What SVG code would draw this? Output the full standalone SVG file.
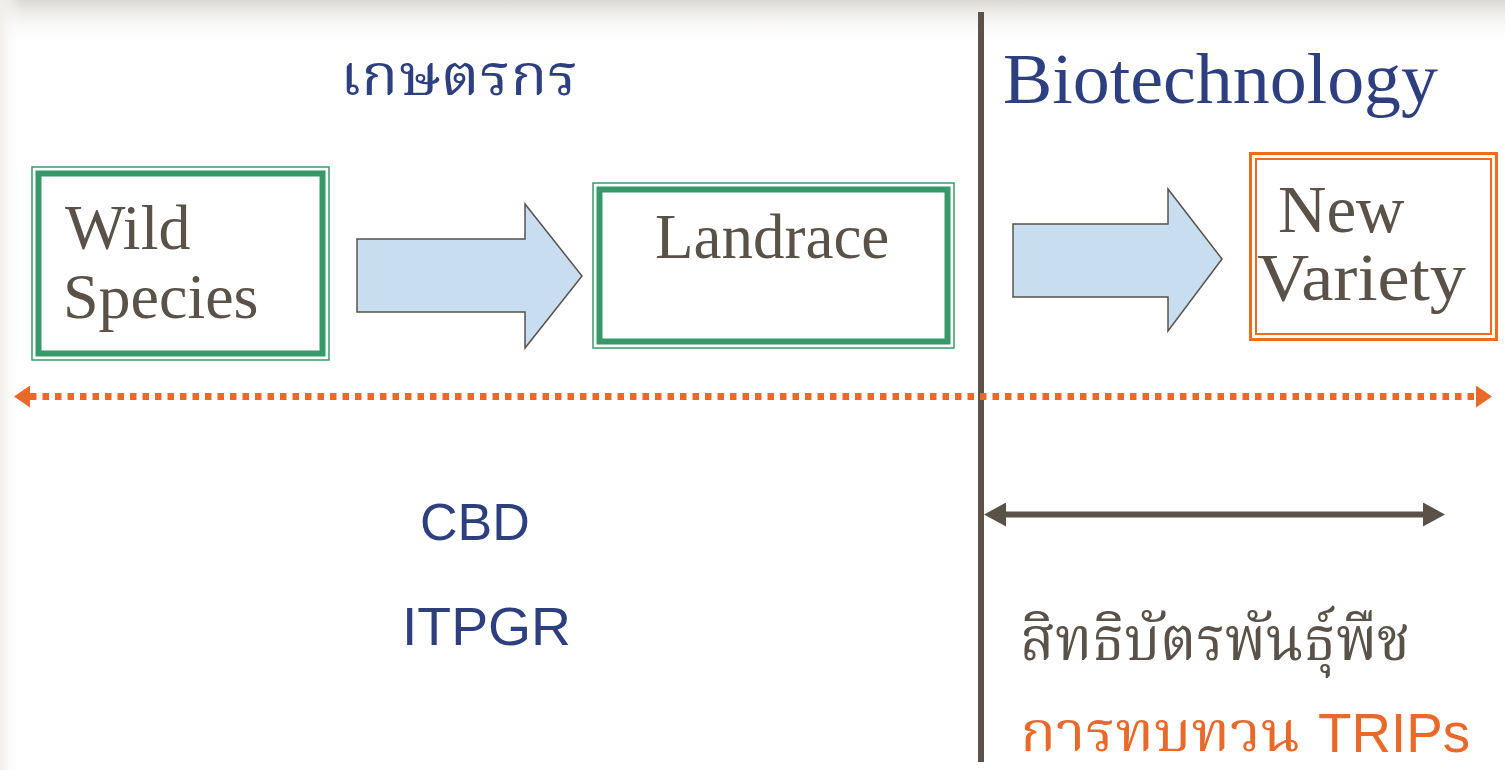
<svg xmlns="http://www.w3.org/2000/svg" width="1505" height="770" viewBox="0 0 1505 770">
<style>
.serif{font-family:"Liberation Serif","Times New Roman",serif;fill:#5a5249}
.sans{font-family:"Liberation Sans",Arial,sans-serif}
.thai{font-family:"Noto Serif Thai","Noto Sans Thai","Loma","Garuda","Noto Sans","DejaVu Sans",serif}
.blue{fill:#2e3f80}
.orange{fill:#e8692a}
.brown{fill:#5a5249}
.green-thin{fill:none;stroke:#3a9a6a;stroke-width:1.5}
.green-thick{fill:#fff;stroke:#379968;stroke-width:6}
.block{fill:#c9ddf0;stroke:#5a524a;stroke-width:1.5;stroke-linejoin:miter}
</style>
<defs>
<linearGradient id="topg" x1="0" y1="0" x2="0" y2="1">
<stop offset="0" stop-color="#dcd9d2"/>
<stop offset="1" stop-color="#ffffff" stop-opacity="0"/>
</linearGradient>
<linearGradient id="leftg" x1="0" y1="0" x2="1" y2="0">
<stop offset="0" stop-color="#f1efeb"/>
<stop offset="1" stop-color="#ffffff" stop-opacity="0"/>
</linearGradient>
<marker id="oa" viewBox="0 0 16 22" refX="0" refY="11" markerWidth="16" markerHeight="22" orient="auto-start-reverse" markerUnits="userSpaceOnUse">
<path d="M0,0 L16,11 L0,22 Z" fill="#e8692a"/>
</marker>
<marker id="da" viewBox="0 0 22 24" refX="0" refY="12" markerWidth="22" markerHeight="24" orient="auto-start-reverse" markerUnits="userSpaceOnUse">
<path d="M0,0 L22,12 L0,24 Z" fill="#5a5249"/>
</marker>
</defs>
<rect width="1505" height="770" fill="#ffffff"/>
<rect x="0" y="0" width="1505" height="45" fill="url(#topg)"/>
<rect x="0" y="0" width="22" height="770" fill="url(#leftg)"/>

<g id="connectors">
<line x1="981" y1="12" x2="981" y2="762" stroke="#5b5249" stroke-width="6"/>
<line x1="30" y1="396.5" x2="1476" y2="396.5" stroke="#e8692a" stroke-width="7" stroke-dasharray="6.5 6" marker-start="url(#oa)" marker-end="url(#oa)"/>
<line x1="1006" y1="514.5" x2="1423" y2="514.5" stroke="#5a5249" stroke-width="6" marker-start="url(#da)" marker-end="url(#da)"/>
<path id="arrow1" class="block" d="M357,239 H525 V204 L582,276 L525,348 V312 H357 Z"/>
<path id="arrow2" class="block" d="M1013,224 H1168 V189 L1222,259 L1168,331 V297 H1013 Z"/>
</g>

<g id="wild-species">
<rect x="32" y="167" width="297" height="193" class="green-thin"/>
<rect x="38.5" y="173.5" width="284" height="180" class="green-thick"/>
<text class="serif" font-size="64" x="65" y="249">Wild</text>
<text class="serif" font-size="64" x="63" y="318">Species</text>
</g>

<g id="landrace">
<rect x="593" y="183" width="361" height="165" class="green-thin"/>
<rect x="599.5" y="189.5" width="348" height="152" class="green-thick"/>
<text class="serif" font-size="63" x="655" y="258">Landrace</text>
</g>

<g id="new-variety">
<rect x="1250.5" y="153.5" width="246" height="186" fill="none" stroke="#f26b1d" stroke-width="3"/>
<rect x="1256" y="159" width="235" height="175" fill="#fff" stroke="#f26b1d" stroke-width="2"/>
<text class="serif" font-size="67" x="1278" y="232">New</text>
<text class="serif" font-size="67" x="1257" y="300" textLength="209" lengthAdjust="spacingAndGlyphs">Variety</text>
</g>

<g id="labels">
<text class="thai blue" font-size="58" x="340" y="95" textLength="238" lengthAdjust="spacingAndGlyphs">เกษตรกร</text>
<text class="serif blue" font-size="72" x="1003" y="103" style="fill:#2e3f80" textLength="435" lengthAdjust="spacingAndGlyphs">Biotechnology</text>
<text class="sans blue" font-size="52" x="420" y="540">CBD</text>
<text class="sans blue" font-size="53" x="402" y="645" textLength="169" lengthAdjust="spacingAndGlyphs">ITPGR</text>
<text class="thai brown" font-size="60" x="1020" y="660" textLength="390" lengthAdjust="spacingAndGlyphs">สิทธิบัตรพันธุ์พืช</text>
<text class="thai orange" font-size="55" x="1020" y="751" textLength="280" lengthAdjust="spacingAndGlyphs">การทบทวน</text>
<text class="sans orange" font-size="56" x="1318" y="752" textLength="152" lengthAdjust="spacingAndGlyphs">TRIPs</text>
</g>
</svg>
